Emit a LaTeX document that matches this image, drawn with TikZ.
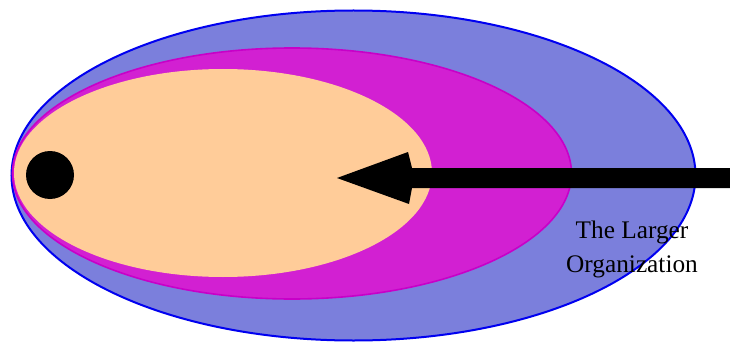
\documentclass[tikz,border=0pt]{standalone}
\usepackage{fontspec}
\setmainfont{Liberation Serif}
\usetikzlibrary{shapes.geometric}
\definecolor{outerfill}{RGB}{123,127,220}
\definecolor{outerline}{RGB}{0,0,240}
\definecolor{midfill}{RGB}{210,32,210}
\definecolor{midline}{RGB}{200,0,200}
\definecolor{innerfill}{RGB}{255,204,153}
\tikzset{
  ring/.style={ellipse, inner sep=0pt, outer sep=0pt},
  lbl/.style={font=\fontsize{25.3}{34}\selectfont, align=center, inner sep=0pt}
}
\begin{document}
\begin{tikzpicture}[x=1pt,y=-1pt]
\useasboundingbox (0,0) rectangle (730,342);
\node[ring, fill=outerfill, draw=outerline, line width=2pt, minimum width=684pt, minimum height=330pt] (outer) at (353.5,175.5) {};
\node[ring, fill=midfill, draw=midline, line width=1.6pt, minimum width=559pt, minimum height=251pt] (mid) at (292,173.5) {};
\node[ring, fill=innerfill, minimum width=418pt, minimum height=208pt] (inner) at (223,173) {};
\node[circle, fill=black, minimum size=48pt, inner sep=0pt] (dot) at (50,175) {};
\coordinate (tail) at (730,178);
\coordinate (tip) at (337,178);
\fill[black] ([yshift=10pt]tail) -- (412,168) -- (408,152) -- (tip) -- (409,204) -- (412,188) -- ([yshift=-10pt]tail) -- cycle;
\node[lbl] (label) at (632,249.5) {The Larger\\Organization};
\end{tikzpicture}
\end{document}
